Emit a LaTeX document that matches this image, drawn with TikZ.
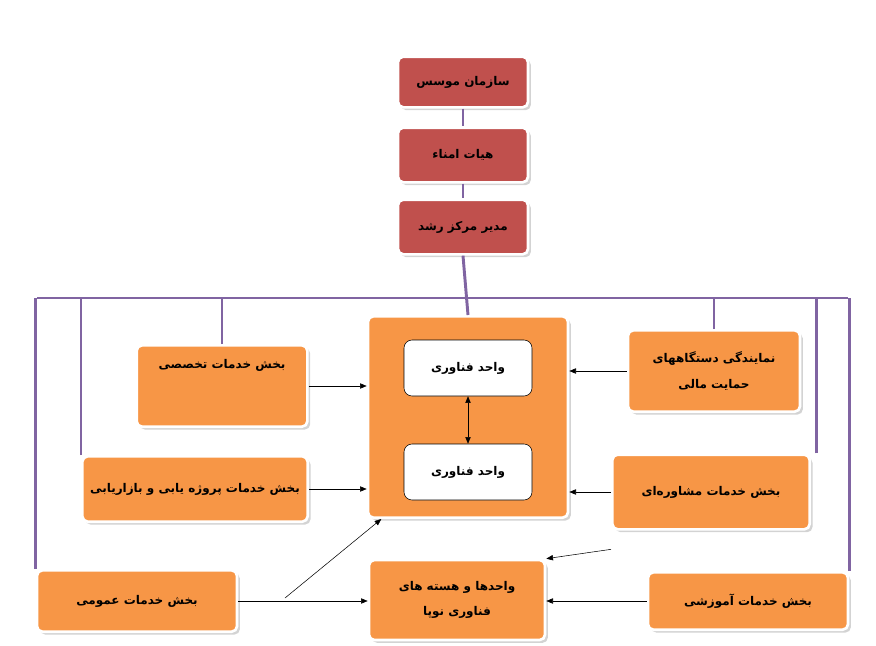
\documentclass[tikz,border=0pt]{standalone}
\usepackage{fontspec}
\newfontfamily\arabicfont[Script=Arabic]{DejaVu Sans}
\TeXXeTstate=1
\usetikzlibrary{
  shadows,
  arrows.meta
}
\definecolor{boardred}{HTML}{C0504D}
\definecolor{unitorange}{HTML}{F79646}
\definecolor{buspurple}{HTML}{8064A2}
\newcommand{\fa}[1]{\arabicfont\bfseries\beginR #1\endR}

\tikzset{
  topbox/.style={draw=white, line width=2pt, fill=boardred, rounded corners=4pt,
    drop shadow={opacity=0.35}, inner sep=0pt, font=\small},
  unitbox/.style={draw=white, line width=2pt, fill=unitorange, rounded corners=4pt,
    drop shadow={opacity=0.35}, inner sep=0pt, align=center, font=\small},
  innerbox/.style={draw=black, fill=white, rounded corners=6pt, inner sep=0pt, font=\small},
  bus/.style={buspurple, line width=2.2pt},
  feed/.style={-{Triangle[length=5pt,width=4pt]}, thin}
}

\begin{document}
\begin{tikzpicture}[x=0.75pt, y=-0.75pt]
\useasboundingbox (0,0) rectangle (876,646);
% board
\node[topbox, minimum width=97.5pt, minimum height=38pt] (founder) at (463,82) {\fa{سازمان موسس}};
\node[topbox, minimum width=97.5pt, minimum height=41pt] (trustees) at (463,155) {\fa{هیات امناء}};
\node[topbox, minimum width=97.5pt, minimum height=41pt] (manager) at (463,227) {\fa{مدیر مرکز رشد}};
% centre
\node[unitbox, minimum width=150pt, minimum height=151pt] (core) at (468,417) {};
\node[innerbox, minimum width=96pt, minimum height=42pt] (techA) at (468,368) {\fa{واحد فناوری}};
\node[innerbox, minimum width=96pt, minimum height=42pt] (techB) at (468,472) {\fa{واحد فناوری}};
\node[unitbox, minimum width=132pt, minimum height=60pt] (startup) at (457,600)
  {\fa{واحدها و هسته های}\\[8pt]\fa{فناوری نوپا}};
% sections
\node[unitbox, minimum width=128pt, minimum height=61pt] (expert) at (222,386) {\fa{بخش خدمات تخصصی}\\[22pt]};
\node[unitbox, minimum width=169pt, minimum height=49pt] (market) at (195,489) {\fa{بخش خدمات پروژه یابی و بازاریابی}};
\node[unitbox, minimum width=150pt, minimum height=46pt] (general) at (137,601) {\fa{بخش خدمات عمومی}};
\node[unitbox, minimum width=129pt, minimum height=61pt] (finance) at (714,371)
  {\fa{نمایندگی دستگاههای}\\[8pt]\fa{حمایت مالی}};
\node[unitbox, minimum width=148pt, minimum height=56pt] (consult) at (711,492) {\fa{بخش خدمات مشاوره‌ای}};
\node[unitbox, minimum width=150pt, minimum height=43pt] (training) at (748,601) {\fa{بخش خدمات آموزشی}};

% purple links
\coordinate (busL) at (37,298);
\coordinate (busR) at (848,298);
\draw[bus] (founder) -- (trustees);
\draw[bus] (trustees) -- (manager);
\draw[bus] (manager.south) -- (core.north);
\draw[bus] (busL) -- (busR);
\draw[bus] (general.north west) -- (general.north west |- busL);
\draw[bus] (market.north west) -- (market.north west |- busL);
\draw[bus] (expert.north) -- (expert.north |- busL);
\draw[bus] (finance.north) -- (finance.north |- busL);
\draw[bus] ([xshift=4]consult.north east) -- ([xshift=4]consult.north east |- busR);
\draw[bus] (training.north east) -- (training.north east |- busR);

% arrows
\draw[{Triangle[length=5pt,width=4pt]}-{Triangle[length=5pt,width=4pt]}, thin] (techA) -- (techB);
\draw[feed] (expert.east) -- (expert.east -| core.west);
\draw[feed] (market.east) -- (market.east -| core.west);
\draw[feed] (finance.west) -- (finance.west -| core.east);
\draw[feed] (consult.west) -- (consult.west -| core.east);
\draw[feed] (training.west) -- (training.west -| startup.east);
\draw[feed] (general.east) -- (general.east -| startup.west);
\coordinate (split) at (285,598);
\draw[feed] (split) -- ([xshift=11]core.south west);
\draw[feed] ([yshift=-14]consult.south west) -- (startup.north east);
\end{tikzpicture}
\end{document}
